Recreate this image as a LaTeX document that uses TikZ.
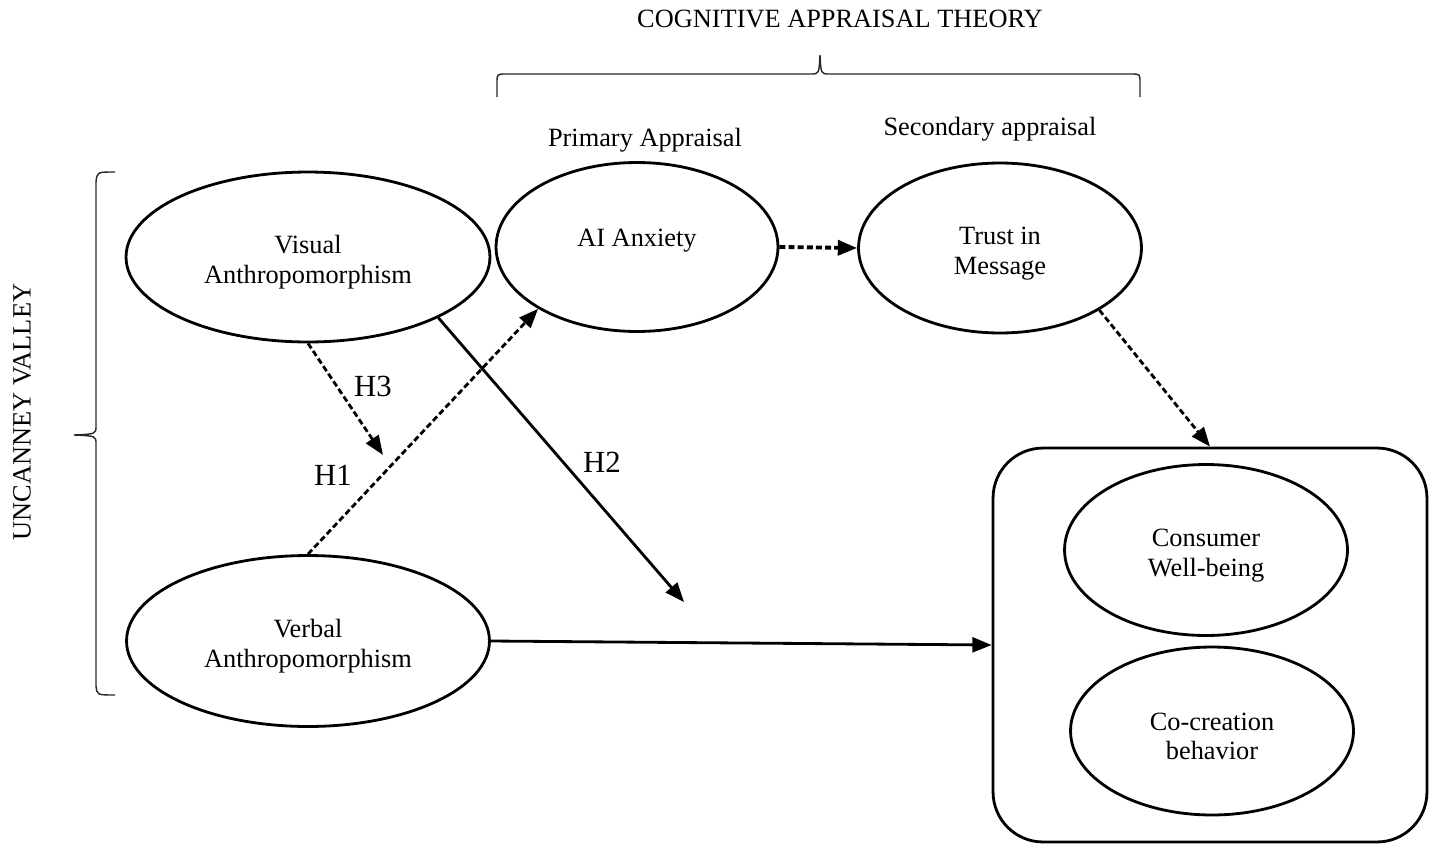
\documentclass[tikz,border=0pt]{standalone}
\usepackage{fontspec}
\setmainfont{Liberation Serif}
\usetikzlibrary{shapes.geometric,arrows.meta}

\newcommand\lowstrut{\rule{0pt}{16pt}}

\begin{document}
\begin{tikzpicture}[x=0.02cm, y=-0.02cm,
    construct/.style={ellipse, draw, line width=1.6pt, inner sep=0pt,
                      align=center, font=\fontsize{15}{17}\selectfont},
    panel/.style={draw, line width=1.6pt, rounded corners=1cm,
                  minimum width=8.68cm, minimum height=7.88cm},
    heading/.style={font=\fontsize{15}{17}\selectfont},
    hyp/.style={font=\fontsize{17.5}{19}\selectfont},
    brace/.style={draw=black!85, line width=0.8pt},
    path/.style={line width=1.6pt, -{Triangle[length=11pt,width=8.5pt]}},
    dpath/.style={path, dash pattern=on 3.4pt off 1.8pt}]
    \useasboundingbox (0,0) rectangle (1436,845);

    % theory headings
    \node[heading] (cat) at (840,19) {COGNITIVE APPRAISAL THEORY};
    \node[heading] (prim) at (645,140) {Primary Appraisal};
    \node[heading] (sec) at (990,129) {Secondary appraisal};
    \node[heading, rotate=90] (uv) at (22,412) {UNCANNEY VALLEY};

    % braces
    \draw[brace] (497,97) -- (497,83) .. controls (497,74) .. (506,74)
        -- (811,74) .. controls (819,74) .. (820,55)
        .. controls (821,74) .. (829,74) -- (1131,74)
        .. controls (1140,74) .. (1140,83) -- (1140,97);
    \draw[brace] (115,172) .. controls (97,172) .. (96,182) -- (96,426)
        .. controls (96,434) .. (74,435) .. controls (96,436) .. (96,444)
        -- (96,686) .. controls (97,695) .. (115,695);

    % constructs
    \node[construct, minimum width=7.28cm, minimum height=3.4cm] (vis) at (308,257)
        {\lowstrut Visual\\Anthropomorphism};
    \node[construct, minimum width=7.26cm, minimum height=3.42cm] (verb) at (308,641)
        {\lowstrut Verbal\\Anthropomorphism};
    \node[construct, minimum width=5.64cm, minimum height=3.38cm] (anx) at (637,247)
        {\lowstrut AI Anxiety\\~};
    \node[construct, minimum width=5.66cm, minimum height=3.4cm] (trust) at (1000,248)
        {\lowstrut Trust in\\Message};

    % outcomes
    \node[panel] (box) at (1210,645) {};
    \node[construct, minimum width=5.66cm, minimum height=3.42cm] (well) at (1206,550)
        {\lowstrut Consumer\\Well-being};
    \node[construct, minimum width=5.66cm, minimum height=3.36cm] (cocr) at (1212,731)
        {\lowstrut Co-creation\\behavior};

    % hypotheses
    \coordinate (h3end) at (383,455);
    \coordinate (h2end) at (684,602);
    \draw[dpath] (vis.south) -- (h3end);
    \draw[dpath] (verb.north) -- (anx.212);
    \draw[path] (vis.-25) -- (h2end);
    \draw[path] (verb.east) -- (box.west);
    \draw[dpath, line width=2.2pt] (anx.east) -- (trust.west);
    \draw[dpath] (trust.-32) -- (box.north);
    \node[hyp] (h3) at (373,386) {H3};
    \node[hyp] (h1) at (333,475) {H1};
    \node[hyp] (h2) at (602,462) {H2};
\end{tikzpicture}
\end{document}
